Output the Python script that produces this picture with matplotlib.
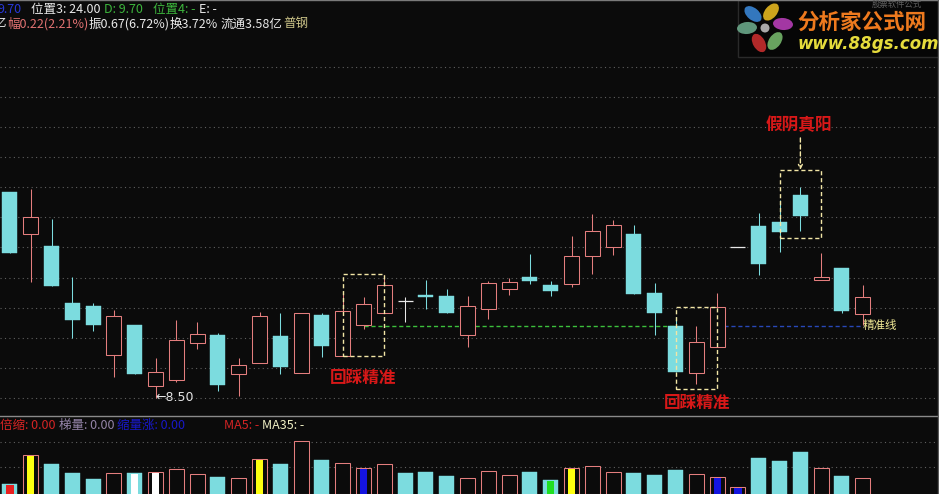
import matplotlib
matplotlib.use('Agg')
import matplotlib.pyplot as plt
from matplotlib.patches import Rectangle, Ellipse

plt.rcParams['font.family'] = ['Noto Sans CJK SC', 'DejaVu Sans']

# ---------------- data ----------------
opens  = [11.92, 11.22, 11.02, 10.08, 10.03, 9.21, 9.71, 8.70, 8.80, 9.41,
          9.55, 8.90, 9.08, 9.53, 8.92, 9.88, 9.20, 9.71, 9.91, 10.11,
          10.21, 10.19, 9.55, 9.98, 10.31, 10.51, 10.38, 10.39, 10.86, 11.01,
          11.22, 10.24, 9.70, 8.92, 9.35, 11.01, 11.36, 11.42, 11.87, 10.46,
          10.66, 9.90]
highs  = [11.92, 11.97, 11.47, 10.51, 10.08, 9.96, 9.71, 9.16, 9.80, 9.76,
          9.58, 9.16, 9.93, 9.91, 9.91, 9.91, 10.24, 10.18, 10.54, 10.18,
          10.46, 10.31, 10.19, 10.44, 10.49, 10.89, 10.44, 11.19, 11.56, 11.46,
          11.37, 10.41, 9.85, 9.70, 10.24, 11.01, 11.57, 11.79, 12.00, 10.91,
          10.66, 10.38]
lows   = [10.91, 10.43, 10.36, 9.50, 9.61, 8.85, 8.90, 8.50, 8.77, 9.31,
          8.62, 8.53, 9.08, 8.90, 8.92, 9.18, 9.20, 9.65, 9.91, 9.76,
          9.98, 9.91, 9.35, 9.81, 10.21, 10.39, 10.19, 10.34, 10.56, 10.88,
          10.23, 9.55, 8.93, 8.73, 9.35, 11.01, 10.54, 10.93, 11.27, 10.46,
          9.91, 9.71]
closes = [10.91, 11.51, 10.36, 9.80, 9.71, 9.86, 8.90, 8.93, 9.46, 9.56,
          8.72, 9.05, 9.86, 9.01, 9.91, 9.36, 9.95, 10.06, 10.38, 10.11,
          10.18, 9.91, 10.03, 10.41, 10.43, 10.44, 10.28, 10.86, 11.27, 11.37,
          10.23, 9.91, 8.93, 9.43, 10.01, 11.01, 10.73, 11.26, 11.52, 10.51,
          9.95, 10.17]
volumes = [10, 39, 30, 21, 15, 21, 21, 22, 25, 20,
           17, 16, 35, 30, 53, 34, 31, 26, 30, 21,
           22, 18, 16, 23, 19, 22, 14, 26, 28, 22,
           21, 19, 24, 20, 17, 7, 36, 33, 42, 26,
           18, 16]
mark_idx = [0, 1, 6, 7, 12, 17, 26, 27, 34, 35]
mark_col = ['#E82020', '#FFFF10', '#FFFFFF', '#FFFFFF', '#FFFF10',
            '#1414E0', '#20E020', '#FFFF10', '#1414E0', '#1414E0']

grid_prices = [8.5, 9.0, 9.5, 10.0, 10.5, 11.0, 11.5, 12.0, 12.5, 13.0, 13.5, 14.0]
vol_grid = [27, 52]
support_price = 9.70
green_span = (17, 32)
blue_span = (34, 41)
boxes = [(16, 18, 10.56, 9.20), (32, 34, 10.01, 8.65), (37, 39, 12.29, 11.16)]
labels = [("回踩精准", 16.97, 8.83), ("回踩精准", 33.03, 8.42), ("假阴真阳", 37.93, 13.03)]
arrow = (38, 12.82, 12.29)
low_label = (7.0, 8.50, "←8.50")

# ---------------- style ----------------
BG = '#0B0B0B'
CYAN = '#7CDCDF'
RED = '#E47E7E'
WHITE = '#E8E8E8'
W, H = 939, 494
PLOT_W = 937
STEP = 20.8
X0 = -0.48
XMAX = X0 + PLOT_W / STEP
LW = 0.75
BW = 0.72

fig = plt.figure(figsize=(W / 100, H / 100), dpi=100, facecolor=BG)

def prep(a):
    a.set_facecolor(BG)
    a.set_xticks([]); a.set_yticks([])
    for s in a.spines.values():
        s.set_visible(False)
    a.set_xlim(X0, XMAX)

ax = fig.add_axes([0, 78 / H, PLOT_W / W, 416 / H])
prep(ax)
ax.set_ylim(8.201, 15.111)
for g in grid_prices:
    ax.axhline(g, color='#606060', lw=0.8, ls=(0, (1, 3)), zorder=0)

ax.hlines(support_price, *green_span, colors='#3CC03C', lw=1.0, linestyles=(0, (3, 2)), zorder=1)
ax.hlines(support_price, *blue_span, colors='#2848B8', lw=1.0, linestyles=(0, (3, 2)), zorder=1)

for i, (o, h, l, c) in enumerate(zip(opens, highs, lows, closes)):
    if c > o:
        ax.vlines(i, l, h, colors=RED, lw=LW, zorder=2)
        ax.add_patch(Rectangle((i - BW / 2, o), BW, c - o, facecolor=BG,
                               edgecolor=RED, lw=LW, zorder=3))
    elif c < o:
        ax.vlines(i, l, h, colors=CYAN, lw=LW, zorder=2)
        ax.add_patch(Rectangle((i - BW / 2, c), BW, o - c, facecolor=CYAN,
                               edgecolor=CYAN, lw=0.3, zorder=3))
    else:
        if h > l:
            ax.vlines(i, l, h, colors=WHITE, lw=LW, zorder=2)
        ax.hlines(o, i - BW / 2, i + BW / 2, colors=WHITE, lw=LW * 1.2, zorder=3)

for (a, b, top, bot) in boxes:
    ax.add_patch(Rectangle((a, bot), b - a, top - bot, fill=False,
                           edgecolor='#F2E6A6', lw=1.0, ls=(0, (3, 2)), zorder=5))

ax.annotate('', xy=(arrow[0], arrow[2]), xytext=(arrow[0], arrow[1]),
            arrowprops=dict(arrowstyle='->', color='#F2E6A6', lw=1.0,
                            ls=(0, (3, 2)), shrinkA=0, shrinkB=0, mutation_scale=7), zorder=5)

for s, xi, yp in labels:
    ax.text(xi, yp, s, color='#D81818', fontsize=12, fontweight='bold',
            ha='center', va='center', zorder=6, clip_on=False)

ax.text(low_label[0], low_label[1], low_label[2], color='#E4E4E4', fontsize=9,
        ha='left', va='center', zorder=6, family=['DejaVu Sans'])
ax.text(blue_span[1], support_price, "精准线", color='#F2EA96', fontsize=8.3,
        ha='left', va='center', zorder=6)

# ---------------- volume ----------------
vx = fig.add_axes([0, 0, PLOT_W / W, 78 / H])
prep(vx)
vx.set_ylim(0, 78)
for g in vol_grid:
    vx.axhline(g, color='#606060', lw=0.8, ls=(0, (1, 3)), zorder=0)
for i, v in enumerate(volumes):
    o, c = opens[i], closes[i]
    up = c > o or (c == o and i > 0 and c > closes[i - 1])
    if up:
        vx.add_patch(Rectangle((i - BW / 2, 0), BW, v, facecolor=BG,
                               edgecolor=RED, lw=LW, zorder=2))
    else:
        vx.add_patch(Rectangle((i - BW / 2, 0), BW, v, facecolor=CYAN,
                               edgecolor=CYAN, lw=0.3, zorder=2))
for i, col in zip(mark_idx, mark_col):
    vx.add_patch(Rectangle((i - 0.17, 0), 0.34, volumes[i] - 0.6, facecolor=col,
                           edgecolor='none', zorder=3))

# ---------------- overlay (headers, borders, logo) ----------------
ov = fig.add_axes([0, 0, 1, 1])
ov.set_xlim(0, W); ov.set_ylim(H, 0)
ov.axis('off')
ov.patch.set_alpha(0)

ov.plot([0, W], [0.5, 0.5], color='#7A7A7A', lw=1)
ov.plot([0, PLOT_W], [416, 416], color='#8A8A8A', lw=1)
ov.plot([937.5, 937.5], [0, H], color='#5A5A5A', lw=1)

FS = 9
row1 = [(-3, "9.70", '#2838D8'), (31, "位置3: 24.00", '#E8E8E8'),
        (104, "D: 9.70", '#3CB43C'), (153, "位置4: -", '#3CB43C'), (199, "E: -", '#E8E8E8')]
row2 = [(-6, "亿", '#E8E8E8'), (7, "幅0.22(2.21%)", '#E27272'), (89, "振0.67(6.72%)", '#E8E8E8'),
        (170, "换3.72%", '#E8E8E8'), (220, "流通3.58亿", '#E8E8E8'), (283, "普钢", '#CCC488')]
for x, s, c in row1:
    ov.text(x, 9.5, s, color=c, fontsize=FS, ha='left', va='center')
for x, s, c in row2:
    ov.text(x, 24, s, color=c, fontsize=FS, ha='left', va='center')

vrow = [(0, "倍缩: 0.00", '#D42424'), (59, "梯量: 0.00", '#9484A8'),
        (117, "缩量涨: 0.00", '#1818C8'), (224, "MA5: -", '#D42424'), (262, "MA35: -", '#F0F0C4')]
for x, s, c in vrow:
    ov.text(x, 425, s, color=c, fontsize=FS, ha='left', va='center')

# logo
ov.add_patch(Rectangle((738, 0), 201, 57, facecolor='#060606', edgecolor='#2A2A2A', lw=1))
ov.text(872, 4.5, "股票软件公式", color='#5E5E5E', fontsize=6, ha='left', va='center')
petals = [(753, 14, '#3C8CE0', 40), (771, 12, '#F0C020', -50), (783, 24, '#C040C0', 5),
          (775, 41, '#7AC070', -55), (759, 43, '#D03030', 60), (747, 28, '#70B090', -5)]
for px, py, pc, ang in petals:
    ov.add_patch(Ellipse((px, py), 20, 12, angle=ang, facecolor=pc, edgecolor='none', alpha=0.85))
ov.add_patch(Ellipse((765, 28), 9, 9, facecolor='#F0F0F0', edgecolor='none', alpha=0.7))
ov.text(797, 22, "分析家公式网", color='#EE7A1E', fontsize=15.5, fontweight='bold',
        ha='left', va='center')
ov.text(798, 44, "www.88gs.com", color='#E6DC3C', fontsize=12, fontweight='bold',
        fontstyle='italic', ha='left', va='center', family=['DejaVu Sans'])

fig.savefig('out.png', dpi=100, facecolor=BG)
